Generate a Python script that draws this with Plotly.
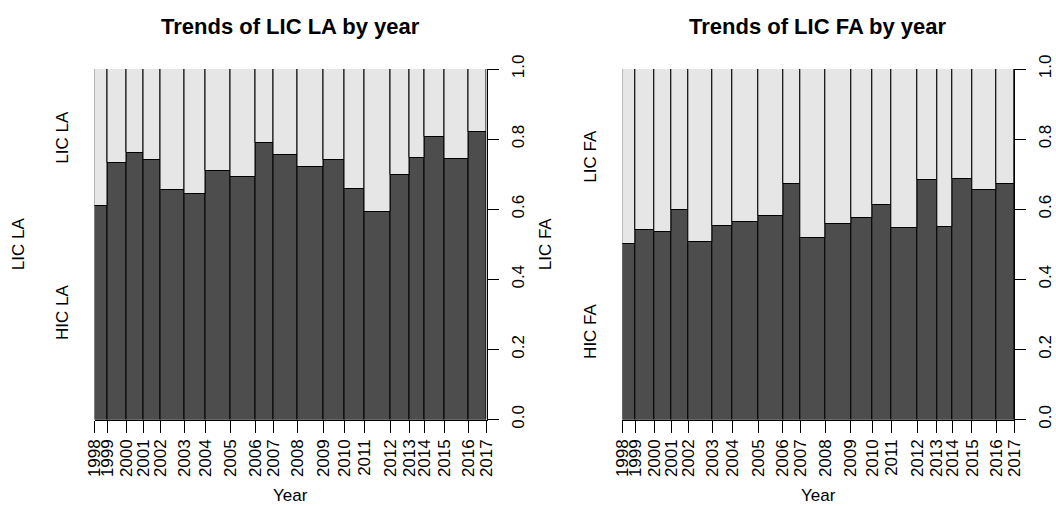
import plotly.graph_objects as go
import numpy as np

# ---- data ----
years = [str(y) for y in range(1998, 2018)]          # bin break labels (20 breaks -> 19 bins)
bin_counts = [13.2, 18.9, 16.9, 17.1, 24.1, 20.2, 25.9, 24.2, 17.9, 24.3,
              25.8, 21.7, 19.2, 25.8, 19.3, 15.4, 19.7, 24.0, 18.0]   # relative bar widths
hic_la = [0.608, 0.731, 0.760, 0.739, 0.655, 0.643, 0.709, 0.693, 0.788, 0.755,
          0.719, 0.741, 0.657, 0.593, 0.698, 0.746, 0.807, 0.743, 0.821]
hic_fa = [0.500, 0.540, 0.536, 0.598, 0.507, 0.553, 0.563, 0.581, 0.672, 0.519,
          0.557, 0.576, 0.611, 0.546, 0.682, 0.550, 0.686, 0.655, 0.672]
y_ticks = [0.0, 0.2, 0.4, 0.6, 0.8, 1.0]

W, H = 1056, 506
DARK, LIGHT = "#4D4D4D", "#E6E6E6"
FONT = "Liberation Sans, Arial, Helvetica, sans-serif"
FS = 17

edges = np.concatenate([[0], np.cumsum(bin_counts)])
centers = (edges[:-1] + edges[1:]) / 2
total = edges[-1]

panels = [
    dict(vals=hic_la, name="LA", x0=94.5, x1=486.5, xr="x", yr="y", title="Trends of LIC LA by year",
         inner_x=63, outer_x=18),
    dict(vals=hic_fa, name="FA", x0=622.3, x1=1014.0, xr="x2", yr="y2", title="Trends of LIC FA by year",
         inner_x=591, outer_x=545),
]
y_top, y_bot = 69, 419.5

fig = go.Figure()
annotations = []
for i, p in enumerate(panels):
    dark = np.array(p["vals"])
    light = 1 - dark
    fig.add_trace(go.Bar(x=centers, y=dark, width=bin_counts, base=0, marker=dict(color=DARK, line=dict(color="black", width=1)),
                         xaxis=p["xr"], yaxis=p["yr"], showlegend=False, hoverinfo="skip"))
    fig.add_trace(go.Bar(x=centers, y=light, width=bin_counts, base=dark, marker=dict(color=LIGHT, line=dict(color="black", width=1)),
                         xaxis=p["xr"], yaxis=p["yr"], showlegend=False, hoverinfo="skip"))
    sfx = "" if i == 0 else "2"
    dom_x = [p["x0"] / W, p["x1"] / W]
    dom_y = [(H - y_bot) / H, (H - y_top) / H]
    fig.layout["xaxis" + sfx] = dict(domain=dom_x, range=[0, total], anchor="y" + sfx, showgrid=False, zeroline=False,
                                     showline=True, linecolor="black", linewidth=1, ticks="outside", ticklen=12,
                                     tickcolor="black", tickvals=list(edges), ticktext=years, tickangle=-90,
                                     tickfont=dict(family=FONT, size=FS, color="black"), fixedrange=True,
                                     automargin=False)
    fig.layout["yaxis" + sfx] = dict(domain=dom_y, range=[0, 1], anchor="x" + sfx, side="right", showgrid=False,
                                     zeroline=False, showline=True, linecolor="black", linewidth=1, ticks="outside",
                                     ticklen=11, tickcolor="black", tickvals=y_ticks,
                                     ticktext=[f"{v:.1f}" for v in y_ticks], tickangle=-90, ticklabelstandoff=5,
                                     tickfont=dict(family=FONT, size=FS, color="black"), fixedrange=True,
                                     automargin=False)
    cx = (p["x0"] + p["x1"]) / 2 / W
    annotations.append(dict(text="<b>" + p["title"] + "</b>", x=cx, y=(H - 26) / H, xref="paper", yref="paper",
                            showarrow=False, font=dict(family=FONT, size=22, color="black"), xanchor="center", yanchor="middle"))
    annotations.append(dict(text="Year", x=cx, y=(H - 495) / H, xref="paper", yref="paper", showarrow=False,
                            font=dict(family=FONT, size=FS, color="black"), xanchor="center", yanchor="middle"))
    # category labels at midpoints of first bar's segments
    annotations.append(dict(text="HIC " + p["name"], x=p["inner_x"] / W, y=dark[0] / 2, xref="paper", yref=p["yr"],
                            showarrow=False, textangle=-90, font=dict(family=FONT, size=FS, color="black"),
                            xanchor="center", yanchor="middle"))
    annotations.append(dict(text="LIC " + p["name"], x=p["inner_x"] / W, y=(1 + dark[0]) / 2, xref="paper", yref=p["yr"],
                            showarrow=False, textangle=-90, font=dict(family=FONT, size=FS, color="black"),
                            xanchor="center", yanchor="middle"))
    annotations.append(dict(text="LIC " + p["name"], x=p["outer_x"] / W, y=0.5, xref="paper", yref=p["yr"],
                            showarrow=False, textangle=-90, font=dict(family=FONT, size=FS, color="black"),
                            xanchor="center", yanchor="middle"))

fig.update_layout(width=W, height=H, margin=dict(l=0, r=0, t=0, b=0, autoexpand=False), paper_bgcolor="white",
                  plot_bgcolor="white", barmode="overlay", bargap=0, annotations=annotations)
fig.write_html("out.html", config={"displayModeBar": False},
               post_script="document.body.style.margin='0';document.body.style.overflow='hidden';")
